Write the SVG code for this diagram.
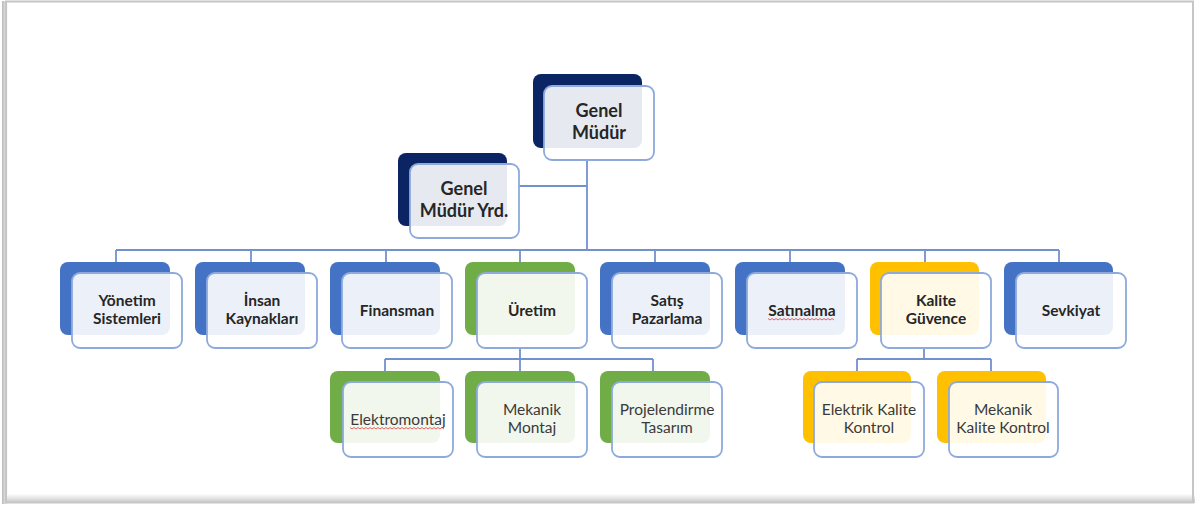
<svg xmlns="http://www.w3.org/2000/svg" width="1195" height="506" viewBox="0 0 1195 506">
<defs>
<linearGradient id="gl" x1="0" y1="0" x2="1" y2="0"><stop offset="0" stop-color="#b8b8b8"/><stop offset="1" stop-color="#ffffff"/></linearGradient>
<linearGradient id="gb" x1="0" y1="0" x2="0" y2="1"><stop offset="0" stop-color="#ffffff"/><stop offset="1" stop-color="#c4c4c4"/></linearGradient>
<style>
.front{fill:#ffffff;fill-opacity:0.9;stroke:#8eaadc;stroke-width:1.8}
.navy{fill:#0b2463}
.blue{fill:#4472c4}
.green{fill:#70ad47}
.gold{fill:#ffc000}
.conn{fill:none;stroke:#7391cf;stroke-width:1.8}
.t1{font-family:Lato,"Liberation Sans",sans-serif;font-weight:bold;font-size:18px;fill:#262626;text-anchor:middle}
.t2{font-family:Lato,"Liberation Sans",sans-serif;font-weight:bold;font-size:15.5px;fill:#262626;text-anchor:middle}
.t3{font-family:Lato,"Liberation Sans",sans-serif;font-size:15.5px;fill:#3a3a3a;text-anchor:middle}
.sq{fill:none;stroke:#e05050;stroke-width:0.9}
</style>
</defs>
<rect x="0" y="0" width="1195" height="506" fill="#ffffff"/>
<g id="frame">
<rect x="2" y="1" width="6" height="503" fill="url(#gl)"/>
<rect x="6" y="494" width="1189" height="9" fill="url(#gb)"/>
<rect x="6" y="1.5" width="1187" height="501" fill="none" stroke="#c6c6c6" stroke-width="2"/>
</g>
<g id="connectors">
<path class="conn" d="M587 160V250M519 186H587M116 250H1059M116 250V262M251 250V262M386 250V262M520 250V262M655 250V262M790 250V262M925 250V262M1059 250V262"/>
<path class="conn" d="M520 348V359M385 359H653M385 359V371M520 359V371M653 359V371"/>
<path class="conn" d="M924 348V359M857 359H991M857 359V371M991 359V371"/>
</g>
<g id="n-genel-mudur">
<rect class="navy" x="533" y="74" width="109" height="74" rx="8"/>
<rect class="front" x="544" y="86" width="110" height="74" rx="8"/>
<text class="t1" x="599" y="117">Genel</text>
<text class="t1" x="599" y="139">Müdür</text>
</g>
<g id="n-genel-mudur-yrd">
<rect class="navy" x="398" y="153" width="109" height="73" rx="8"/>
<rect class="front" x="410" y="164" width="109" height="74" rx="8"/>
<text class="t1" x="464" y="195">Genel</text>
<text class="t1" x="464" y="217">Müdür Yrd.</text>
</g>
<g id="n-yonetim">
<rect class="blue" x="60" y="262" width="110" height="73" rx="8"/>
<rect class="front" x="72" y="273" width="110" height="75" rx="8"/>
<text class="t2" x="127" y="306">Yönetim</text>
<text class="t2" x="127" y="324">Sistemleri</text>
</g>
<g id="n-insan">
<rect class="blue" x="195" y="262" width="110" height="73" rx="8"/>
<rect class="front" x="207" y="273" width="110" height="75" rx="8"/>
<text class="t2" x="262" y="306">İnsan</text>
<text class="t2" x="262" y="324">Kaynakları</text>
</g>
<g id="n-finansman">
<rect class="blue" x="330" y="262" width="110" height="73" rx="8"/>
<rect class="front" x="342" y="273" width="110" height="75" rx="8"/>
<text class="t2" x="397" y="315.5">Finansman</text>
</g>
<g id="n-uretim">
<rect class="green" x="465" y="262" width="110" height="73" rx="8"/>
<rect class="front" x="477" y="273" width="110" height="75" rx="8"/>
<text class="t2" x="532" y="315.5">Üretim</text>
</g>
<g id="n-satis">
<rect class="blue" x="600" y="262" width="110" height="73" rx="8"/>
<rect class="front" x="612" y="273" width="110" height="75" rx="8"/>
<text class="t2" x="667" y="306">Satış</text>
<text class="t2" x="667" y="324">Pazarlama</text>
</g>
<g id="n-satinalma">
<rect class="blue" x="735" y="262" width="110" height="73" rx="8"/>
<rect class="front" x="747" y="273" width="110" height="75" rx="8"/>
<text class="t2" x="802" y="315.5">Satınalma</text>
<path class="sq" d="M768 318.5l2 1.5 2-1.5 2 1.5 2-1.5 2 1.5 2-1.5 2 1.5 2-1.5 2 1.5 2-1.5 2 1.5 2-1.5 2 1.5 2-1.5 2 1.5 2-1.5 2 1.5 2-1.5 2 1.5 2-1.5 2 1.5 2-1.5 2 1.5 2-1.5 2 1.5 2-1.5 2 1.5 2-1.5 2 1.5 2-1.5 2 1.5 2-1.5 2 1.5"/>
</g>
<g id="n-kalite">
<rect class="gold" x="870" y="262" width="109" height="73" rx="8"/>
<rect class="front" x="881" y="273" width="110" height="75" rx="8"/>
<text class="t2" x="936" y="306">Kalite</text>
<text class="t2" x="936" y="324">Güvence</text>
</g>
<g id="n-sevkiyat">
<rect class="blue" x="1004" y="262" width="109" height="73" rx="8"/>
<rect class="front" x="1016" y="273" width="110" height="75" rx="8"/>
<text class="t2" x="1071" y="315.5">Sevkiyat</text>
</g>
<g id="n-elektromontaj">
<rect class="green" x="330" y="371" width="110" height="72" rx="8"/>
<rect class="front" x="343" y="382" width="110" height="75" rx="8"/>
<text class="t3" x="398" y="424.5">Elektromontaj</text>
<path class="sq" d="M350 427.5l2 1.5 2-1.5 2 1.5 2-1.5 2 1.5 2-1.5 2 1.5 2-1.5 2 1.5 2-1.5 2 1.5 2-1.5 2 1.5 2-1.5 2 1.5 2-1.5 2 1.5 2-1.5 2 1.5 2-1.5 2 1.5 2-1.5 2 1.5 2-1.5 2 1.5 2-1.5 2 1.5 2-1.5 2 1.5 2-1.5 2 1.5 2-1.5 2 1.5 2-1.5 2 1.5 2-1.5 2 1.5 2-1.5 2 1.5 2-1.5 2 1.5 2-1.5 2 1.5 2-1.5 2 1.5 2-1.5 2 1.5"/>
</g>
<g id="n-mekanik-montaj">
<rect class="green" x="465" y="371" width="110" height="72" rx="8"/>
<rect class="front" x="477" y="382" width="110" height="75" rx="8"/>
<text class="t3" x="532" y="415">Mekanik</text>
<text class="t3" x="532" y="433">Montaj</text>
</g>
<g id="n-projelendirme">
<rect class="green" x="600" y="371" width="110" height="72" rx="8"/>
<rect class="front" x="612" y="382" width="110" height="75" rx="8"/>
<text class="t3" x="667" y="415">Projelendirme</text>
<text class="t3" x="667" y="433">Tasarım</text>
</g>
<g id="n-elektrik-kalite">
<rect class="gold" x="803" y="371" width="108" height="72" rx="8"/>
<rect class="front" x="814" y="382" width="110" height="75" rx="8"/>
<text class="t3" x="869" y="415">Elektrik Kalite</text>
<text class="t3" x="869" y="433">Kontrol</text>
</g>
<g id="n-mekanik-kalite">
<rect class="gold" x="937" y="371" width="109" height="72" rx="8"/>
<rect class="front" x="949" y="382" width="109" height="75" rx="8"/>
<text class="t3" x="1003" y="415">Mekanik</text>
<text class="t3" x="1003" y="433">Kalite Kontrol</text>
</g>
</svg>
